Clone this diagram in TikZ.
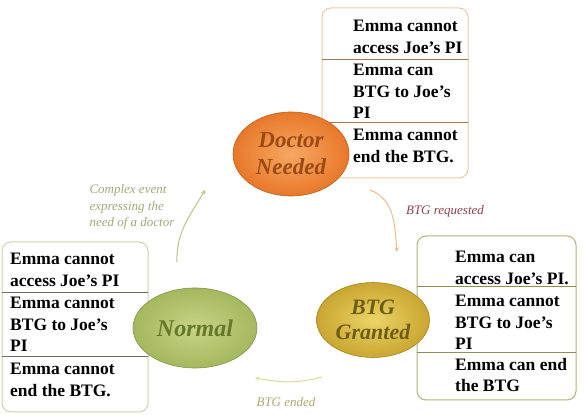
\documentclass[tikz,border=0pt]{standalone}
\usepackage{fontspec}
\setmainfont{Liberation Serif}
\usetikzlibrary{shapes.geometric}
\definecolor{docB}{HTML}{E9C9A3}
\definecolor{docL}{HTML}{9C7A5A}
\definecolor{normB}{HTML}{CDD3B0}
\definecolor{normL}{HTML}{6E6E5E}
\definecolor{btgB}{HTML}{B0B27A}
\definecolor{btgL}{HTML}{8E8E60}
\definecolor{docIn}{HTML}{F7A862}
\definecolor{docOut}{HTML}{E8782A}
\definecolor{docTxt}{HTML}{9C4A14}
\definecolor{normIn}{HTML}{C6D486}
\definecolor{normOut}{HTML}{A4B85E}
\definecolor{normTxt}{HTML}{66782A}
\definecolor{btgIn}{HTML}{EBD466}
\definecolor{btgOut}{HTML}{C9A630}
\definecolor{btgTxt}{HTML}{6E5C12}
\begin{document}
\begin{tikzpicture}[x=1pt, y=1pt, line cap=round, line join=round, >=stealth,
  rowtext/.style={anchor=north west, align=left, inner sep=0pt, font=\bfseries\fontsize{17.5}{21.5}\selectfont},
  statebox/.style={rounded corners=9pt, line width=1pt},
  state/.style={ellipse, inner sep=0pt, align=center, line width=0.6pt},
  evlabel/.style={font=\itshape\fontsize{13}{16.5}\selectfont, align=left},
  flow/.style={line width=1pt, ->}]
\useasboundingbox (0,0) rectangle (584,415);

% state boxes
\draw[statebox, docB] (322,237) rectangle (468,407);
\draw[docL] (322,356) -- (468,356) (322,293) -- (468,293);
\foreach \ry/\txt [count=\i] in {395/{Emma cannot\\access Joe’s PI}, 351/{Emma can\\BTG to Joe’s\\PI}, 286/{Emma cannot\\end the BTG.}}
  \node[rowtext] (doc\i) at (353,\ry) {\txt};

\draw[statebox, normB] (2,3) rectangle (148,173);
\draw[normL] (2,123) -- (148,123) (2,59) -- (148,59);
\foreach \ry/\txt [count=\i] in {162/{Emma cannot\\access Joe’s PI}, 118/{Emma cannot\\BTG to Joe’s\\PI}, 52/{Emma cannot\\end the BTG.}}
  \node[rowtext] (norm\i) at (10,\ry) {\txt};

\draw[statebox, btgB] (417,15) rectangle (576,179);
\draw[btgL] (417,129) -- (576,129) (417,63) -- (576,63);
\foreach \ry/\txt [count=\i] in {164/{Emma can\\access Joe’s PI.}, 120/{Emma cannot\\BTG to Joe’s\\PI}, 57/{Emma can end\\the BTG}}
  \node[rowtext] (btg\i) at (455,\ry) {\txt};

% states
\node[state, minimum width=116, minimum height=84, draw=docOut!80!black, inner color=docIn, outer color=docOut,
  text=docTxt, font=\bfseries\itshape\fontsize{23}{27}\selectfont] (doctor) at (291,261) {Doctor\\Needed};
\node[state, minimum width=124, minimum height=80, draw=normOut!80!black, inner color=normIn, outer color=normOut,
  text=normTxt, font=\bfseries\itshape\fontsize{24}{27}\selectfont] (normal) at (195,87) {Normal};
\node[state, minimum width=113, minimum height=75, draw=btgOut!80!black, inner color=btgIn, outer color=btgOut,
  text=btgTxt, font=\bfseries\itshape\fontsize{22}{25}\selectfont] (granted) at (373,95) {BTG\\Granted};

% transitions
\coordinate (n2d-s) at (177,153);
\coordinate (n2d-e) at (205,225);
\coordinate (d2b-s) at (370,225);
\coordinate (d2b-e) at (397,163);
\coordinate (b2n-s) at (322,38);
\coordinate (b2n-e) at (255,37);
\draw[flow, draw={rgb,255:red,184;green,196;blue,138}] (n2d-s) to[out=92,in=240] (n2d-e);
\draw[flow, draw={rgb,255:red,242;green,185;blue,142}] (d2b-s) to[out=-20,in=95] (d2b-e);
\draw[flow, draw={rgb,255:red,217;green,220;blue,154}] (b2n-s) to[out=-165,in=-10] (b2n-e);
\node[evlabel, anchor=west, text={rgb,255:red,160;green,168;blue,120}] (evneed) at (86,208) {Complex event\\expressing the\\need of a doctor};
\node[evlabel, text={rgb,255:red,138;green,64;blue,80}] (evreq) at (445,204) {BTG requested};
\node[evlabel, text={rgb,255:red,168;green,168;blue,112}] (evend) at (286,13) {BTG ended};
\end{tikzpicture}
\end{document}
